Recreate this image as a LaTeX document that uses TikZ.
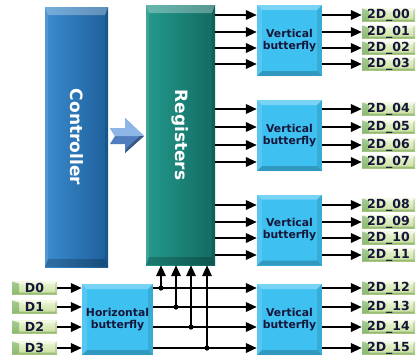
\documentclass[tikz,border=0pt]{standalone}
\usepackage{fontspec}
\setmainfont{DejaVu Sans}
\usetikzlibrary{arrows.meta,calc}

\definecolor{ctrlL}{HTML}{3B8BCF}
\definecolor{ctrlR}{HTML}{1D5F99}
\definecolor{regL}{HTML}{24998C}
\definecolor{regR}{HTML}{126A61}
\definecolor{vbcol}{HTML}{3EC0F0}
\definecolor{tagT}{HTML}{EEF7D8}
\definecolor{tagB}{HTML}{C6DE9A}
\definecolor{tagtxt}{HTML}{15163A}
\definecolor{chevL}{HTML}{8DB6E6}
\definecolor{chevD}{HTML}{4F7DBE}

\tikzset{
  % beveled face: #1 = side bevel, #2 = top/bottom bevel
  bevel/.style 2 args={path picture={
    \path (path picture bounding box.north west) coordinate (bNW)
          (path picture bounding box.north east) coordinate (bNE)
          (path picture bounding box.south west) coordinate (bSW)
          (path picture bounding box.south east) coordinate (bSE);
    \fill[white,opacity=.30] (bNW) -- (bNE) -- ([shift={(-#1,-#2)}]bNE) -- ([shift={(#1,-#2)}]bNW) -- cycle;
    \fill[white,opacity=.12] (bNW) -- ([shift={(#1,-#2)}]bNW) -- ([shift={(#1,#2)}]bSW) -- (bSW) -- cycle;
    \fill[black,opacity=.20] (bSW) -- (bSE) -- ([shift={(-#1,#2)}]bSE) -- ([shift={(#1,#2)}]bSW) -- cycle;
    \fill[black,opacity=.10] (bNE) -- ([shift={(-#1,-#2)}]bNE) -- ([shift={(-#1,#2)}]bSE) -- (bSE) -- cycle;
  }},
  % green tag with a darker tail on its left end
  tagbevel/.style={path picture={
    \path (path picture bounding box.north west) coordinate (bNW)
          (path picture bounding box.north east) coordinate (bNE)
          (path picture bounding box.south west) coordinate (bSW)
          (path picture bounding box.south east) coordinate (bSE);
    \fill[white,opacity=.45] (bNW) -- (bNE) -- ([shift={(-2pt,-2pt)}]bNE) -- ([shift={(7pt,-2pt)}]bNW) -- cycle;
    \fill[black!60!green,opacity=.30] (bNW) -- ([shift={(7pt,-2pt)}]bNW) -- ([shift={(7pt,2pt)}]bSW) -- (bSW) -- cycle;
    \fill[black!70!green,opacity=.25] (bSW) -- (bSE) -- ([shift={(-2pt,2pt)}]bSE) -- ([shift={(7pt,2pt)}]bSW) -- cycle;
    \fill[black,opacity=.10] (bNE) -- ([shift={(-2pt,-2pt)}]bNE) -- ([shift={(-2pt,2pt)}]bSE) -- (bSE) -- cycle;
  }},
  tallbox/.style={draw=none, minimum width=#1, minimum height=260pt, inner sep=0pt},
  ctrlbox/.style={tallbox=63pt, left color=ctrlL, right color=ctrlR, bevel={3pt}{8pt}},
  regbox/.style={tallbox=69pt, left color=regL, right color=regR, bevel={3pt}{8pt}},
  vertlabel/.style={rotate=-90, text=white, font=\fontsize{17}{19}\selectfont\bfseries},
  vbbox/.style={draw=none, fill=vbcol, minimum width=65pt, minimum height=71pt,
    inner sep=0pt, align=center, text=tagtxt, bevel={5pt}{5pt},
    font=\fontsize{10.8}{12}\selectfont\bfseries},
  hbbox/.style={vbbox, minimum width=71pt},
  tag/.style={draw=none, top color=tagT, bottom color=tagB, minimum height=13pt,
    inner sep=0pt, text=tagtxt, tagbevel, font=\fontsize{12.5}{13}\selectfont\bfseries},
  outtag/.style={tag, minimum width=53pt, xshift=2pt},
  intag/.style={tag, minimum width=45pt, xshift=2pt},
  wire/.style={line width=2pt, black},
  arrowwire/.style={wire, -{Triangle[length=11pt,width=9.5pt]}},
  joint/.style={fill=black},
}

\begin{document}
\begin{tikzpicture}[x=1pt,y=-1pt]
  \useasboundingbox[fill=white] (0,0) rectangle (419,360);

  % controller and register file
  \node[ctrlbox] (ctrl) at (76.5,137) {};
  \node[vertlabel] (ctrltxt) at (ctrl.center) {Controller};
  \node[regbox] (reg) at (180.5,135) {};
  \node[vertlabel] (regtxt) at (reg.center) {Registers};

  % 3D arrow from controller to registers
  \fill[chevD] (110,128) -- (125,128) -- (125,118) -- (144,136) -- (125,153) -- (125,144) -- (110,144) -- (115,136) -- cycle;
  \fill[chevL] (110,128) -- (125,128) -- (125,118) -- (144,136) -- (128,136) -- (118,136) -- (115,136) -- cycle;
  \fill[chevD!70!black] (125,153) -- (144,136) -- (140,136) -- (127,148) -- cycle;

  % vertical butterfly units
  \node[vbbox] (vb1) at (289.5,40.5)  {Vertical\\butterfly};
  \node[vbbox] (vb2) at (289.5,135.5) {Vertical\\butterfly};
  \node[vbbox] (vb3) at (289.5,230)   {Vertical\\butterfly};
  \node[vbbox] (vb4) at (289.5,319.5) {Vertical\\butterfly};

  % horizontal butterfly
  \node[hbbox] (hb) at (117.5,319.5) {Horizontal\\butterfly};

  % output tags
  \foreach \n/\y in {00/15,01/32,02/48,03/64,04/109,05/127,06/145,07/162,
                     08/205,09/222,10/238,11/255,12/288,13/307,14/327,15/348}
    \node[outtag] (o\n) at (386.5,\y) {2D\_\n};

  % input tags
  \foreach \n/\y in {0/288,1/307,2/327,3/348}
    \node[intag] (d\n) at (32.5,\y) {D\n};

  % registers -> vertical butterflies -> outputs
  \foreach \b/\list in {vb1/{00,01,02,03},vb2/{04,05,06,07},vb3/{08,09,10,11}}
    \foreach \n in \list {
      \draw[arrowwire] (reg.east |- o\n) -- (\b.west |- o\n);
      \draw[arrowwire] (\b.east |- o\n) -- (o\n.west);
    }
  \foreach \n in {12,13,14,15}
    \draw[arrowwire] (vb4.east |- o\n) -- (o\n.west);

  % inputs -> horizontal butterfly -> last vertical butterfly
  \foreach \n in {0,1,2,3} {
    \draw[arrowwire] (d\n.east) -- (hb.west |- d\n);
    \draw[arrowwire] (hb.east |- d\n) -- (vb4.west |- d\n);
  }

  % taps feeding the register file
  \foreach \n/\x/\y in {0/161/288,1/176/307,2/191/327,3/207/348} {
    \coordinate (t\n) at (\x,\y);
    \draw[arrowwire] (t\n) -- (t\n |- reg.south);
    \fill[joint] (t\n) circle (2.6pt);
  }
\end{tikzpicture}
\end{document}
